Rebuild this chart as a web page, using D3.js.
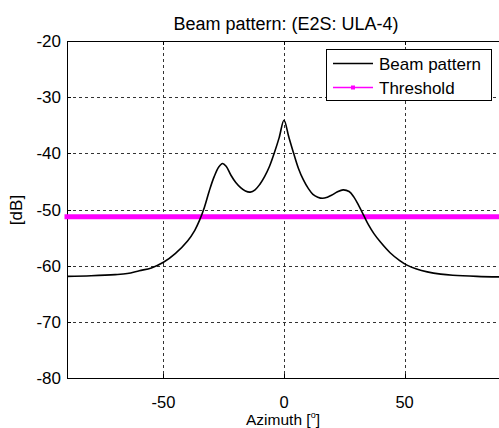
<!DOCTYPE html>
<html><head><meta charset="utf-8">
<script src="https://cdn.jsdelivr.net/npm/d3@7"></script>
<style>
html,body{margin:0;padding:0;background:#fff;}
text{font-family:"Liberation Sans",Arial,sans-serif;fill:#000;}
</style></head>
<body>
<svg id="chart" width="499" height="428"></svg>
<script>
const azimuth = [-90,-80,-70,-65,-60,-55,-50,-45,-40,-37,-35,-33,-31,-29,-27,-25.5,-24,-22,-20,-18,-16,-14,-12,-10,-8,-6,-4,-2,0,2,4,6,8,10,12,14,16,18,20,22,24.5,27,29,31,33,35,37.3,40,44,48,51,55,59.4,65,70,80,90];
const beamDb  = [-61.9,-61.8,-61.6,-61.4,-60.9,-60.4,-59.4,-57.8,-55.6,-53.7,-51.9,-49.6,-46.7,-44.2,-42.4,-41.8,-42.3,-43.9,-45.2,-46.1,-46.7,-46.9,-46.5,-45.5,-44.1,-42.3,-39.9,-37.2,-34.1,-37.1,-40.0,-42.7,-44.7,-46.2,-47.3,-47.8,-48.0,-47.8,-47.4,-46.9,-46.5,-46.8,-47.8,-49.3,-51.0,-52.7,-54.3,-55.8,-57.7,-59.1,-59.9,-60.6,-61.1,-61.5,-61.7,-61.9,-62.0];
const thresholdDb = -51.3;
const thresholdAz = [-90, 90];
const xTicks = [-50, 0, 50];
const yTicks = [-20, -30, -40, -50, -60, -70, -80];
const titleText = "Beam pattern: (E2S: ULA-4)";
const legendLabels = ["Beam pattern", "Threshold"];

const svg = d3.select("#chart");
const L = 67, R = 501, T = 41, B = 378;
const x = d3.scaleLinear().domain([-90, 90]).range([L, R]);
const y = d3.scaleLinear().domain([-80, -20]).range([B, T]);

// grid
const grid = svg.append("g").attr("stroke", "#333").attr("stroke-width", 1).attr("stroke-dasharray", "3,3");
xTicks.forEach(t => grid.append("line").attr("x1", Math.round(x(t)) + 0.5).attr("x2", Math.round(x(t)) + 0.5).attr("y1", T).attr("y2", B));
yTicks.filter(t => t > -80 && t < -20).forEach(t => grid.append("line").attr("x1", L).attr("x2", R).attr("y1", Math.round(y(t)) + 0.5).attr("y2", Math.round(y(t)) + 0.5));

// axes frame
const frame = svg.append("g").attr("stroke", "#000").attr("stroke-width", 1);
frame.append("line").attr("x1", L + 0.5).attr("x2", L + 0.5).attr("y1", T).attr("y2", B + 0.5);
frame.append("line").attr("x1", L).attr("x2", R).attr("y1", B + 0.5).attr("y2", B + 0.5);
frame.append("line").attr("x1", L).attr("x2", R).attr("y1", T + 0.5).attr("y2", T + 0.5);

// tick marks (inside)
xTicks.forEach(t => {
  frame.append("line").attr("x1", Math.round(x(t)) + 0.5).attr("x2", Math.round(x(t)) + 0.5).attr("y1", B).attr("y2", B - 4);
  frame.append("line").attr("x1", Math.round(x(t)) + 0.5).attr("x2", Math.round(x(t)) + 0.5).attr("y1", T).attr("y2", T + 4);
});
yTicks.forEach(t => frame.append("line").attr("x1", L).attr("x2", L + 4).attr("y1", Math.round(y(t)) + 0.5).attr("y2", Math.round(y(t)) + 0.5));

// tick labels
svg.append("g").selectAll("text").data(xTicks).join("text")
  .attr("x", d => x(d)).attr("y", 407.5).attr("text-anchor", "middle").attr("font-size", 16.5).text(d => d);
svg.append("g").selectAll("text").data(yTicks).join("text")
  .attr("x", 61).attr("y", d => y(d) + 6).attr("text-anchor", "end").attr("font-size", 17).text(d => d);

// threshold
const line = d3.line().x(d => x(d[0])).y(d => y(d[1]));
svg.append("path").datum(thresholdAz.map(a => [a, thresholdDb]))
  .attr("d", line).attr("stroke", "#ff00ff").attr("stroke-width", 5).attr("stroke-linecap", "square").attr("fill", "none");

// beam pattern
const beamLine = d3.line().x(d => x(d[0])).y(d => y(d[1])).curve(d3.curveCatmullRom.alpha(0.5));
svg.append("path").datum(azimuth.map((a, i) => [a, beamDb[i]]))
  .attr("d", beamLine).attr("stroke", "#000").attr("stroke-width", 1.6).attr("fill", "none");

// title
svg.append("text").attr("x", 286).attr("y", 30).attr("text-anchor", "middle").attr("font-size", 18).text(titleText);

// axis labels
const xl = svg.append("text").attr("x", 283).attr("y", 424.5).attr("text-anchor", "middle").attr("font-size", 15.5);
xl.append("tspan").text("Azimuth [");
xl.append("tspan").attr("font-size", 9).attr("dy", -7).text("o");
xl.append("tspan").attr("dy", 7).text("]");
svg.append("text").attr("transform", "translate(22,210) rotate(-90)").attr("text-anchor", "middle").attr("font-size", 17).text("[dB]");

// legend
const lg = svg.append("g");
lg.append("rect").attr("x", 326.5).attr("y", 49.5).attr("width", 165).attr("height", 51).attr("fill", "#fff").attr("stroke", "#000").attr("stroke-width", 1);
lg.append("line").attr("x1", 333).attr("x2", 373).attr("y1", 63.5).attr("y2", 63.5).attr("stroke", "#000").attr("stroke-width", 1.6);
lg.append("line").attr("x1", 333).attr("x2", 373).attr("y1", 87.5).attr("y2", 87.5).attr("stroke", "#ff00ff").attr("stroke-width", 1.6);
lg.append("rect").attr("x", 351).attr("y", 85.5).attr("width", 4).attr("height", 4).attr("fill", "#ff00ff");
lg.selectAll("text.lt").data(legendLabels).join("text").attr("class", "lt")
  .attr("x", 379).attr("y", (d, i) => 69.5 + i * 24).attr("font-size", 17).text(d => d);
</script>
</body></html>
